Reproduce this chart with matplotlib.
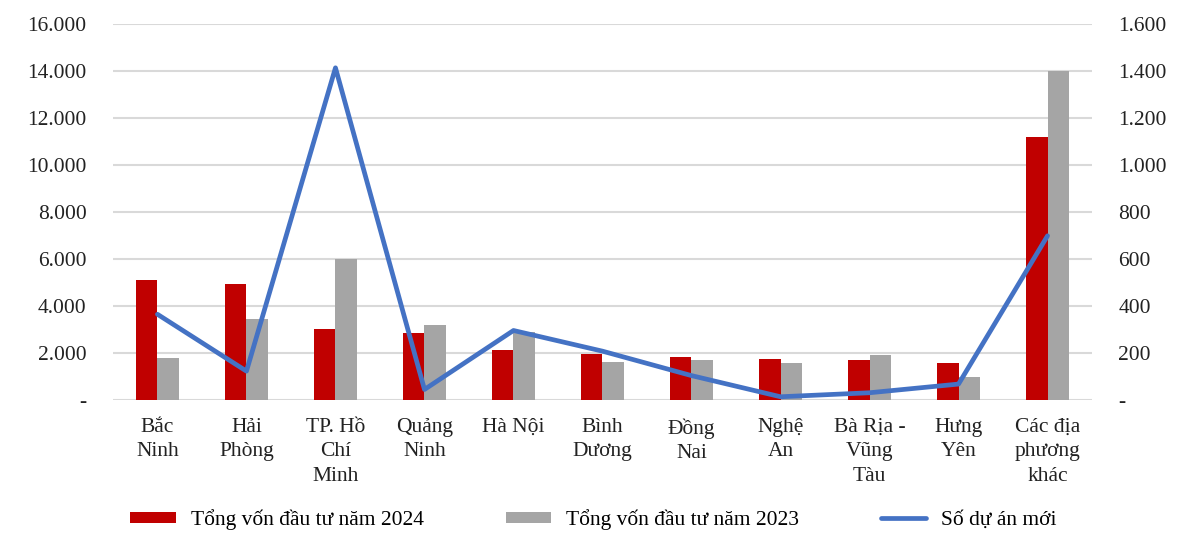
"""FDI theo địa phương: vốn đầu tư 2024/2023 và số dự án mới."""

import numpy as np
import matplotlib
matplotlib.use("Agg")
import matplotlib.pyplot as plt
from matplotlib.ticker import FuncFormatter, MultipleLocator

plt.rcParams['font.family'] = ['Liberation Serif', 'DejaVu Serif']

# Data
provinces = ["Bắc\nNinh", "Hải\nPhòng", "TP. Hồ\nChí\nMinh", "Quảng\nNinh", "Hà Nội",
             "Bình\nDương", "Đồng\nNai", "Nghệ\nAn", "Bà Rịa -\nVũng\nTàu",
             "Hưng\nYên", "Các địa\nphương\nkhác"]
von_2024 = [5130, 4950, 3040, 2870, 2120, 1940, 1840, 1730, 1690, 1560, 11200]
von_2023 = [1800, 3450, 6020, 3210, 2910, 1610, 1710, 1590, 1910, 980, 14010]
so_du_an = [365, 123, 1414, 45, 296, 208, 104, 14, 31, 68, 699]

RED = "#C00000"
GRAY = "#A5A5A5"
BLUE = "#4472C4"
GRID = "#D9D9D9"
FS = 15.5


def thousands(v, _pos):
    if v == 0:
        return "-"
    return f"{int(v):,}".replace(",", ".")


fig = plt.figure(figsize=(11.94, 5.48), dpi=100)
ax = fig.add_axes([0.0946, 0.27, 0.82, 0.686])

x = np.arange(len(provinces))
w = 0.24
ax.bar(x - w / 2, von_2024, width=w, color=RED, label="Tổng vốn đầu tư năm 2024", zorder=2)
ax.bar(x + w / 2, von_2023, width=w, color=GRAY, label="Tổng vốn đầu tư năm 2023", zorder=2)

ax.set_xlim(-0.5, len(provinces) - 0.5)
ax.set_ylim(0, 16000)
ax.yaxis.set_major_locator(MultipleLocator(2000))
ax.yaxis.set_major_formatter(FuncFormatter(thousands))
ax.grid(axis='y', color=GRID, linewidth=1.5)
ax.set_axisbelow(True)
ax.set_xticks(x)
ax.set_xticklabels(provinces, fontsize=FS, linespacing=1.38)
ax.tick_params(axis='both', length=0, labelsize=FS, colors="#222222")
ax.tick_params(axis='y', pad=19)
ax.tick_params(axis='x', pad=13)
for s in ax.spines.values():
    s.set_visible(False)

ax2 = ax.twinx()
ax2.plot(x, so_du_an, color=BLUE, linewidth=3.4, label="Số dự án mới",
         solid_joinstyle='round', solid_capstyle='round')
ax2.set_ylim(0, 1600)
ax2.yaxis.set_major_locator(MultipleLocator(200))
ax2.yaxis.set_major_formatter(FuncFormatter(thousands))
ax2.tick_params(axis='y', length=0, labelsize=FS, pad=19, colors="#222222")
for s in ax2.spines.values():
    s.set_visible(False)

h1, l1 = ax.get_legend_handles_labels()
h2, l2 = ax2.get_legend_handles_labels()
fig.legend(h1 + h2, l1 + l2, loc='center', bbox_to_anchor=(0.497, 0.052), ncol=3,
           frameon=False, fontsize=FS, handlelength=2.1, handleheight=0.4,
           columnspacing=3.8, handletextpad=0.7)

fig.savefig("out.png", dpi=100, facecolor='white')
